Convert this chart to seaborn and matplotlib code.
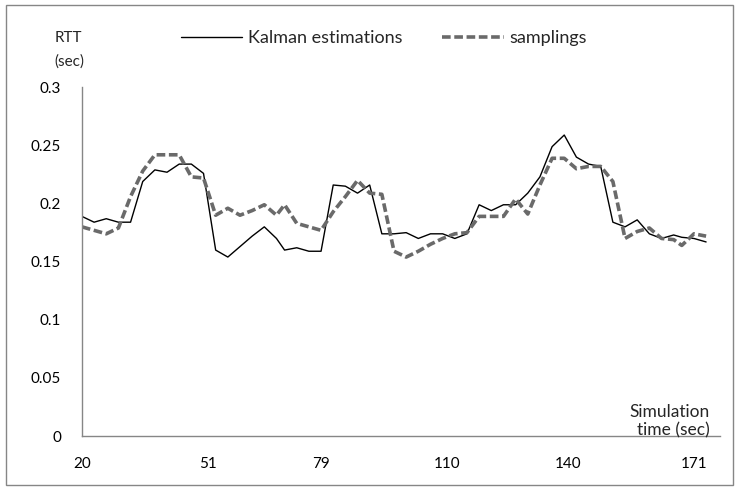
import pandas as pd
import seaborn as sns
from matplotlib import pyplot as plt
from matplotlib.patches import Rectangle

# simulation times (sec) and RTT values
times = [20, 23, 26, 29, 32, 35, 38, 41, 44, 47, 50, 53, 56, 59, 62, 65, 68, 70,
         73, 76, 79, 82, 85, 88, 91, 94, 97, 100, 103, 106, 109, 112, 115, 118,
         121, 124, 127, 130, 133, 136, 139, 142, 145, 148, 151, 154, 157, 160,
         163, 166, 168, 171, 174]

kalman = [0.189, 0.184, 0.187, 0.184, 0.184, 0.219, 0.229, 0.227, 0.234, 0.234,
          0.226, 0.160, 0.154, 0.163, 0.172, 0.180, 0.170, 0.160, 0.162, 0.159,
          0.159, 0.216, 0.215, 0.209, 0.216, 0.174, 0.174, 0.175, 0.170, 0.174,
          0.174, 0.170, 0.174, 0.199, 0.194, 0.199, 0.199, 0.209, 0.223, 0.249,
          0.259, 0.240, 0.234, 0.232, 0.184, 0.180, 0.186, 0.174, 0.170, 0.173,
          0.171, 0.170, 0.167]

samplings = [0.180, 0.177, 0.174, 0.179, 0.206, 0.228, 0.242, 0.242, 0.242, 0.223,
             0.222, 0.190, 0.196, 0.190, 0.194, 0.199, 0.190, 0.199, 0.183, 0.180,
             0.177, 0.193, 0.206, 0.220, 0.209, 0.208, 0.159, 0.154, 0.159, 0.165,
             0.170, 0.174, 0.175, 0.189, 0.189, 0.189, 0.204, 0.191, 0.216, 0.239,
             0.239, 0.230, 0.232, 0.232, 0.219, 0.170, 0.176, 0.179, 0.170, 0.169,
             0.164, 0.174, 0.172]

x_ticks = [20, 51, 79, 110, 140, 171]
y_ticks = [0, 0.05, 0.1, 0.15, 0.2, 0.25, 0.3]
y_labels = ['0', '0.05', '0.1', '0.15', '0.2', '0.25', '0.3']

df = pd.DataFrame({'time': times, 'Kalman estimations': kalman, 'samplings': samplings})

sns.set_style('white')
plt.rcParams['font.family'] = ['Lato', 'DejaVu Sans']

fig = plt.figure(figsize=(7.38, 4.91), dpi=100)
ax = fig.add_axes([0.111, 0.112, 0.865, 0.71])

sns.lineplot(data=df, x='time', y='Kalman estimations', ax=ax, color='black',
             linewidth=1.0, label='Kalman estimations')
sns.lineplot(data=df, x='time', y='samplings', ax=ax, color='#6a6a6a',
             linewidth=2.6, label='samplings')
ax.lines[1].set_dashes((2.4, 1.0))

ax.set_xlim(20, 177.5)
ax.set_ylim(0, 0.3)
ax.set_xticks(x_ticks)
ax.set_xticklabels([str(t) for t in x_ticks])
ax.set_yticks(y_ticks)
ax.set_yticklabels(y_labels)
ax.set_xlabel('')
ax.set_ylabel('')

for side in ['top', 'right']:
    ax.spines[side].set_visible(False)
for side in ['left', 'bottom']:
    ax.spines[side].set_color('#868686')
    ax.spines[side].set_linewidth(1.0)
ax.tick_params(axis='both', which='major', direction='out', length=5, width=1,
               color='#868686', labelsize=11, labelcolor='black')
ax.tick_params(axis='x', pad=10)
ax.tick_params(axis='y', pad=10)

leg = ax.legend(loc='center', bbox_to_anchor=(0.52, 0.922), bbox_transform=fig.transFigure,
                ncol=2, frameon=False, fontsize=13, handlelength=3.4,
                handletextpad=0.3, columnspacing=2.2)

fig.text(0.074, 0.922, 'RTT', fontsize=11, va='center', ha='left')
fig.text(0.074, 0.874, '(sec)', fontsize=11, va='center', ha='left')
fig.text(0.962, 0.1425, 'Simulation\ntime (sec)', fontsize=12.5, va='center', ha='right',
         linespacing=1.15)

fig.patches.append(Rectangle((0.008, 0.012), 0.985, 0.978, transform=fig.transFigure,
                             fill=False, edgecolor='#868686', linewidth=1.0))

fig.savefig('out.png', dpi=100)
